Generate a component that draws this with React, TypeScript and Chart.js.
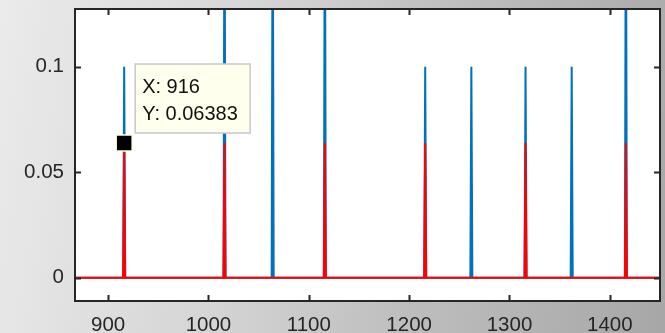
import React, { useEffect, useRef } from "react";
import { Chart, registerables } from "chart.js";

Chart.register(...registerables);

const xMin = 867;
const xMax = 1450;
const yMin = -0.011;
const yMax = 0.1273;
const xTicks = [900, 1000, 1100, 1200, 1300, 1400];
const yTicks = [0, 0.05, 0.1];
const blueSpikeX = [916, 1016, 1064, 1116, 1216, 1262, 1316, 1362, 1416];
const blueSpikeY = [0.1, 0.2, 0.2, 0.2, 0.1, 0.1, 0.1, 0.1, 0.2];
const redSpikeX = [916, 1016, 1116, 1216, 1316, 1416];
const redSpikeY = [0.06383, 0.06383, 0.06383, 0.06383, 0.06383, 0.06383];
const dataTipX = 916;
const dataTipY = 0.06383;

function spikeTrain(xs: number[], ys: number[]) {
  const pts: { x: number; y: number }[] = [{ x: xMin, y: 0 }];
  xs.forEach((x, i) => {
    pts.push({ x: x - 1, y: 0 });
    pts.push({ x, y: ys[i] });
    pts.push({ x: x + 1, y: 0 });
  });
  pts.push({ x: xMax, y: 0 });
  return pts;
}

const FONT = "'Liberation Sans', Arial, Helvetica, sans-serif";
const AXIS = "#262626";

export default function App() {
  const ref = useRef<HTMLCanvasElement | null>(null);

  useEffect(() => {
    if (!ref.current) return;
    const framePlugin = {
      id: "matlabFrame",
      beforeDraw(chart: any) {
        const { ctx, chartArea: a } = chart;
        ctx.save();
        ctx.fillStyle = "#ffffff";
        ctx.fillRect(a.left, a.top, a.right - a.left, a.bottom - a.top);
        ctx.restore();
      },
      afterDraw(chart: any) {
        const { ctx, chartArea: a, scales } = chart;
        ctx.save();
        ctx.strokeStyle = AXIS;
        ctx.lineWidth = 2;
        ctx.strokeRect(a.left, a.top, a.right - a.left, a.bottom - a.top);
        const tl = 6;
        ctx.beginPath();
        xTicks.forEach((v) => {
          const px = Math.round(scales.x.getPixelForValue(v)) + 0.5;
          ctx.moveTo(px, a.bottom);
          ctx.lineTo(px, a.bottom - tl);
          ctx.moveTo(px, a.top);
          ctx.lineTo(px, a.top + tl);
        });
        yTicks.forEach((v) => {
          const py = Math.round(scales.y.getPixelForValue(v)) + 0.5;
          ctx.moveTo(a.left, py);
          ctx.lineTo(a.left + tl, py);
          ctx.moveTo(a.right, py);
          ctx.lineTo(a.right - tl, py);
        });
        ctx.stroke();

        // data tip
        const px = scales.x.getPixelForValue(dataTipX);
        const py = scales.y.getPixelForValue(dataTipY);
        ctx.fillStyle = "#000000";
        ctx.strokeStyle = "#ffffe0";
        ctx.lineWidth = 1.5;
        ctx.fillRect(px - 8, py - 8, 16, 16);
        ctx.strokeRect(px - 8, py - 8, 16, 16);

        const bx = px + 11;
        const by = py - 79;
        ctx.fillStyle = "#ffffee";
        ctx.fillRect(bx, by, 115, 69);
        ctx.strokeStyle = "#c8c8c8";
        ctx.lineWidth = 1.5;
        ctx.strokeRect(bx, by, 115, 69);
        ctx.fillStyle = "#111111";
        ctx.font = `20px ${FONT}`;
        ctx.textBaseline = "alphabetic";
        ctx.textAlign = "left";
        ctx.fillText(`X: ${dataTipX}`, px + 18, py - 50);
        ctx.fillText(`Y: ${dataTipY}`, px + 18, py - 23);
        ctx.restore();
      },
    };

    const chart = new Chart(ref.current, {
      type: "line",
      data: {
        datasets: [
          {
            label: "red",
            data: spikeTrain(redSpikeX, redSpikeY),
            borderColor: "#ff0000",
            borderWidth: 2,
            pointRadius: 0,
            tension: 0,
          },
          {
            label: "blue",
            data: spikeTrain(blueSpikeX, blueSpikeY),
            borderColor: "#0072bd",
            borderWidth: 2,
            pointRadius: 0,
            tension: 0,
          },
        ],
      },
      options: {
        animation: false,
        responsive: false,
        events: [],
        layout: { padding: { left: 0, top: 9, right: 5, bottom: 0 } },
        plugins: { legend: { display: false }, tooltip: { enabled: false } },
        scales: {
          x: {
            type: "linear",
            min: xMin,
            max: xMax,
            grid: { display: false, drawTicks: false },
            border: { display: false },
            afterBuildTicks: (s: any) => {
              s.ticks = xTicks.map((v) => ({ value: v }));
            },
            afterFit: (s: any) => {
              s.height = 32;
              s.paddingLeft = 0;
              s.paddingRight = 0;
              s.paddingTop = 0;
              s.paddingBottom = 0;
            },
            ticks: {
              padding: 12,
              color: AXIS,
              font: { family: FONT, size: 20.5 },
              maxRotation: 0,
              autoSkip: false,
              callback: (v: any) => String(v),
            },
          },
          y: {
            type: "linear",
            min: yMin,
            max: yMax,
            grid: { display: false, drawTicks: false },
            border: { display: false },
            afterBuildTicks: (s: any) => {
              s.ticks = yTicks.map((v) => ({ value: v }));
            },
            afterFit: (s: any) => {
              s.width = 75;
              s.paddingLeft = 0;
              s.paddingRight = 0;
              s.paddingTop = 0;
              s.paddingBottom = 0;
            },
            ticks: {
              padding: 11,
              color: AXIS,
              font: { family: FONT, size: 20.5 },
              autoSkip: false,
              callback: (v: any) => String(v),
            },
          },
        },
      },
      plugins: [framePlugin],
    } as any);
    return () => chart.destroy();
  }, []);

  return (
    <div
      style={{
        position: "fixed",
        left: 0,
        top: 0,
        width: 665,
        height: 333,
        background:
          "linear-gradient(100deg, #ebebeb 0%, #d6d6d6 35%, #bdbdbd 65%, #a7a7a7 100%)",
      }}
    >
      <canvas ref={ref} width={665} height={333} style={{ display: "block" }} />
    </div>
  );
}
